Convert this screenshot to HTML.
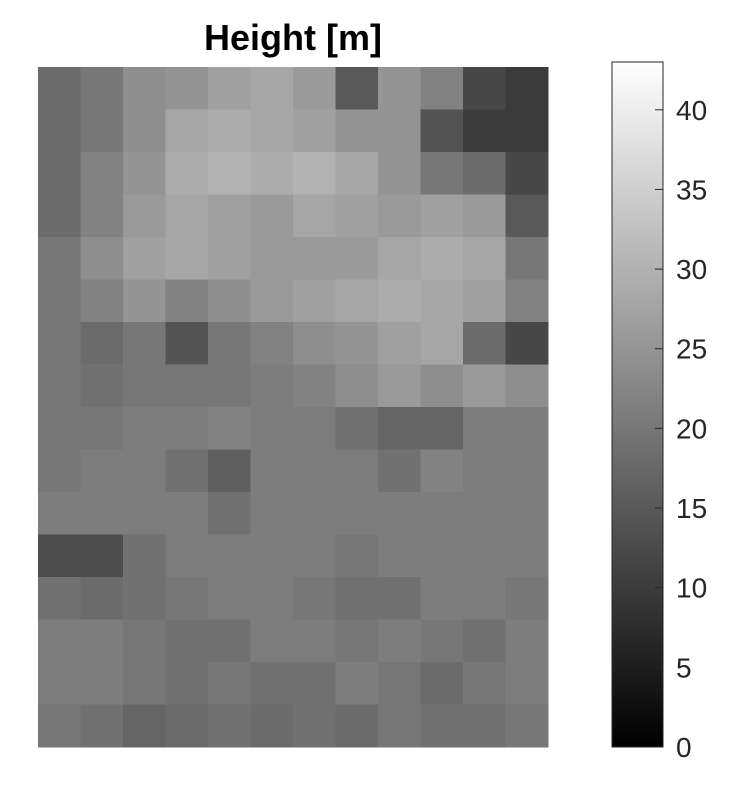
<!DOCTYPE html>
<html><head><meta charset="utf-8">
<style>
html,body{margin:0;padding:0;background:#fff;}
svg{display:block;font-family:"Liberation Sans",sans-serif;}
</style></head>
<body>
<svg id="chart" width="740" height="790" viewBox="0 0 740 790">
<text x="293" y="50" text-anchor="middle" font-size="36" font-weight="bold" fill="#000">Height [m]</text>
<g id="heatmap"></g>
<defs><linearGradient id="gray" x1="0" y1="1" x2="0" y2="0"><stop offset="0" stop-color="#000"/><stop offset="1" stop-color="#fff"/></linearGradient></defs>
<rect x="612" y="62" width="51" height="685" fill="url(#gray)" stroke="#262626" stroke-width="1"/>
<g id="cbticks"></g>
</svg>
<script>
const gridRows = [
[18,20,24,25,27,28,26,15,25,22,12,10],
[18,20,24,28,29,28,27,25,25,14,10,10],
[18,22,25,29,30,29,30,28,25,20,18,12],
[18,22,26,28,27,26,28,27,26,27,26,15],
[20,24,27,28,27,26,26,26,28,29,28,20],
[20,22,25,22,24,26,27,28,29,28,27,22],
[20,18,20,14,20,22,24,25,27,28,18,12],
[20,19,20,20,20,21,22,24,26,24,26,24],
[20,20,21,21,22,21,21,19,17,17,21,21],
[20,21,21,19,16,21,21,21,19,22,21,21],
[21,21,21,21,19,21,21,21,21,21,21,21],
[13,13,19,21,21,21,21,20,21,21,21,21],
[19,18,19,20,21,21,20,19,19,21,21,20],
[21,21,20,19,19,21,21,20,21,20,19,21],
[21,21,20,19,20,19,19,21,20,18,20,21],
[20,19,17,18,19,18,19,18,20,19,19,20]
];
const tickValues = [0,5,10,15,20,25,30,35,40];
const cMin = 0, cMax = 43;
const NS = "http://www.w3.org/2000/svg";
const ax = {x0:38, x1:548, y0:67, y1:747};
const nR = gridRows.length, nC = gridRows[0].length;
const xPos = c => ax.x0 + c*(ax.x1-ax.x0)/nC;
const yPos = r => ax.y0 + r*(ax.y1-ax.y0)/nR;
const color = v => { const g = Math.round(Math.max(0,Math.min(1,(v-cMin)/(cMax-cMin)))*255); return `rgb(${g},${g},${g})`; };
const hm = document.getElementById('heatmap');
gridRows.forEach((row,r)=>row.forEach((v,c)=>{
  const el = document.createElementNS(NS,'rect');
  
  
  el.setAttribute('x', xPos(c)); el.setAttribute('y', yPos(r));
  el.setAttribute('width', xPos(c+1)-xPos(c)+0.5); el.setAttribute('height', yPos(r+1)-yPos(r)+0.5);
  el.setAttribute('fill', color(v));
  hm.appendChild(el);
}));
const cb = {y0:747, y1:62};
const cbY = v => cb.y0 + (v-cMin)/(cMax-cMin)*(cb.y1-cb.y0);
const tg = document.getElementById('cbticks');
tickValues.forEach(t=>{
  const y = cbY(t);
  const ln = document.createElementNS(NS,'line');
  
  
  ln.setAttribute('x1',655); ln.setAttribute('x2',663); ln.setAttribute('y1',y); ln.setAttribute('y2',y);
  ln.setAttribute('stroke','#262626');
  tg.appendChild(ln);
  const tx = document.createElementNS(NS,'text');
  
  
  tx.setAttribute('x',676); tx.setAttribute('y',y+10);
  tx.setAttribute('font-size','28'); tx.setAttribute('fill','#262626');
  tx.textContent = t;
  tg.appendChild(tx);
});
</script>
</body></html>
